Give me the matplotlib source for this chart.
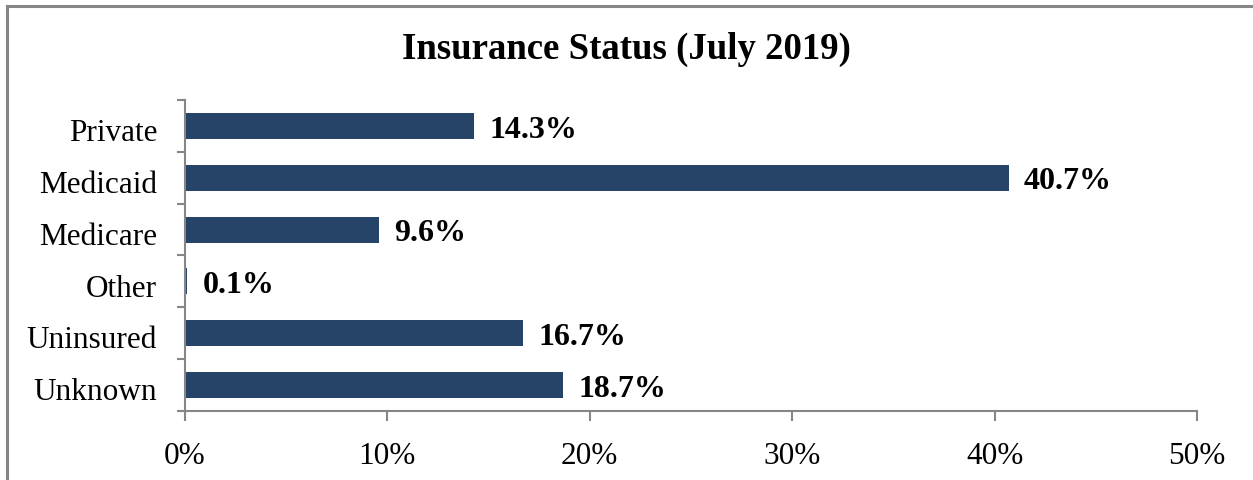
import matplotlib
matplotlib.use("Agg")
import matplotlib.pyplot as plt
import matplotlib.transforms as mtransforms
from matplotlib.lines import Line2D
from matplotlib.ticker import FuncFormatter

categories = ["Private", "Medicaid", "Medicare", "Other", "Uninsured", "Unknown"]
values = [14.3, 40.7, 9.6, 0.1, 16.7, 18.7]
xticks = [0, 10, 20, 30, 40, 50]
title = "Insurance Status (July 2019)"

plt.rcParams['font.family'] = ['Liberation Serif', 'DejaVu Serif']

fig = plt.figure(figsize=(12.53, 4.8), dpi=100)
ax = fig.add_axes([185/1253, 1-411/480, (1197-185)/1253, (411-100)/480])

bar_color = "#264468"
axis_color = "#868686"

ypos = list(range(len(categories)))
ax.barh(ypos, values, height=0.5, color=bar_color)
ax.set_ylim(len(categories)-0.5, -0.5)
ax.set_xlim(0, 50)

for y, v in zip(ypos, values):
    ax.annotate(f"{v:.1f}%", xy=(v, y), xytext=(11, -3), textcoords="offset points",
                va="center", ha="left", fontsize=23, fontweight="bold")

ax.set_yticks(ypos)
ax.set_yticklabels(categories, fontsize=22.5)
ax.set_yticks([i - 0.5 for i in range(len(categories)+1)], minor=True)
ax.tick_params(axis='y', which='major', length=0, pad=20)
ax.tick_params(axis='y', which='minor', length=6, width=1.5, color=axis_color)
shift = mtransforms.ScaledTranslation(0, -3/72, fig.dpi_scale_trans)
for lbl in ax.get_yticklabels():
    lbl.set_transform(lbl.get_transform() + shift)

ax.set_xticks(xticks)
ax.xaxis.set_major_formatter(FuncFormatter(lambda x, p: f"{int(x)}%"))
ax.tick_params(axis='x', length=7, width=1.5, color=axis_color, labelsize=22.5, pad=15)

for s in ["top", "right"]:
    ax.spines[s].set_visible(False)
for s in ["left", "bottom"]:
    ax.spines[s].set_color(axis_color)
    ax.spines[s].set_linewidth(1.5)

fig.text(0.5, 1-49/480, title, ha="center", va="center", fontsize=26.5, fontweight="bold")

# chart area border (left and top)
fig.add_artist(Line2D([7/1253, 7/1253], [0, 1-5.5/480], color=axis_color, lw=2.2, transform=fig.transFigure))
fig.add_artist(Line2D([7/1253, 1], [1-5.5/480, 1-5.5/480], color=axis_color, lw=2.2, transform=fig.transFigure))

fig.savefig("out.png", dpi=100)
